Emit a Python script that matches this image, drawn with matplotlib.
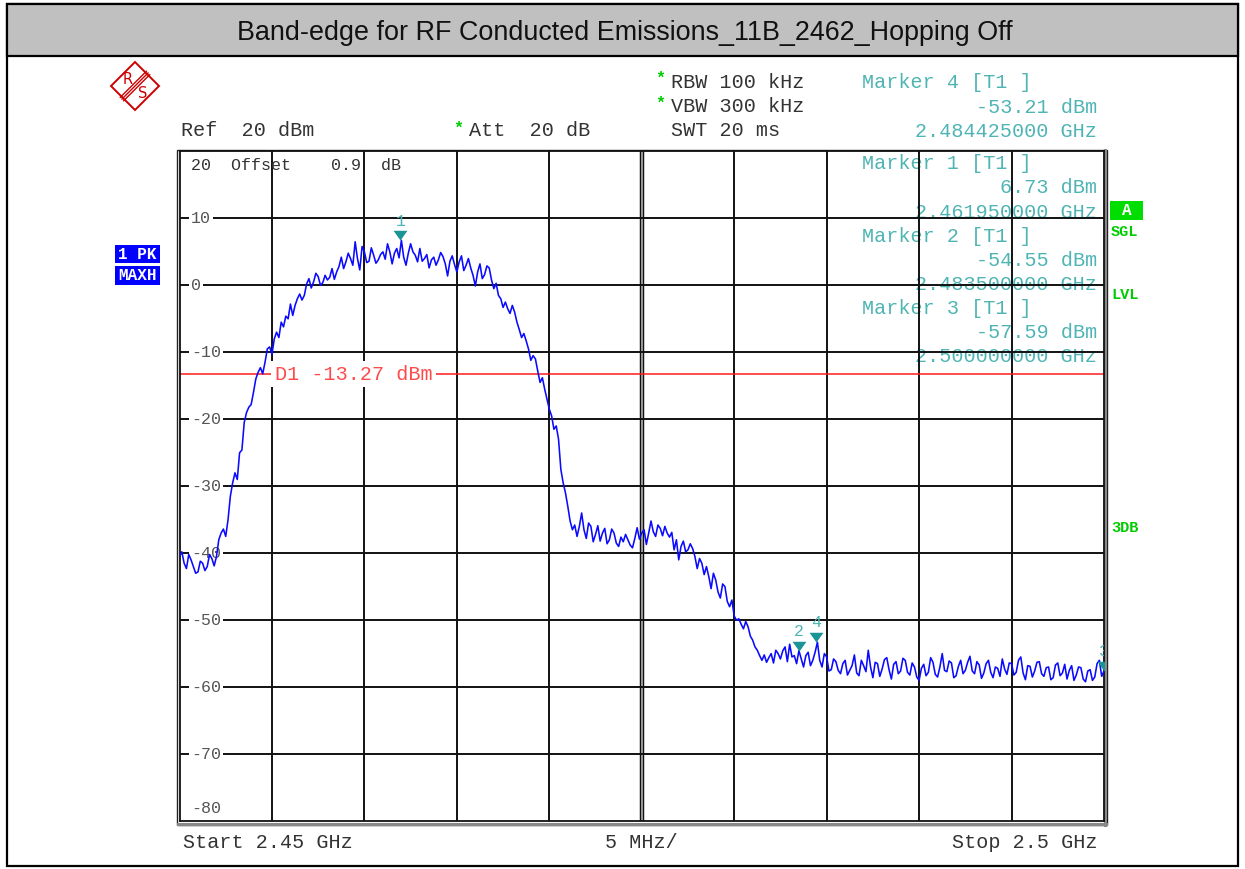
import numpy as np
import matplotlib
matplotlib.use("Agg")
import matplotlib.pyplot as plt
from matplotlib.patches import Rectangle, Polygon

W, H = 1245, 869

TITLE = "Band-edge for RF Conducted Emissions_11B_2462_Hopping Off"
START_GHZ, STOP_GHZ = 2.45, 2.50
REF_DBM, BOTTOM_DBM = 20, -80
display_line_dbm = -13.27

# peak trace, one value per 0.125 MHz across the span,
# one row = 2 MHz
trace_dbm = [
    -40.5, -39.8, -41.5, -42.3, -40.2, -41.0, -42.0, -43.0, -42.8, -41.2, -41.5, -42.6, -42.0, -40.2, -40.8, -41.9,
    -40.5, -38.0, -37.0, -36.4, -37.5, -35.0, -31.5, -29.5, -28.0, -29.0, -25.0, -24.6, -20.5, -19.0, -18.2, -17.8,
    -16.0, -14.0, -13.0, -12.3, -13.2, -11.5, -9.5, -9.2, -10.3, -8.0, -7.0, -7.8, -5.5, -6.2, -4.6, -5.0,
    -2.8, -4.5, -3.0, -2.0, -1.3, -2.2, -1.5, 0.2, 1.0, -0.4, 0.5, 1.8, 1.3, 0.0, 0.4, 1.5,
    0.8, 1.2, 2.5, 0.9, 2.0, 2.8, 4.2, 2.5, 3.5, 4.8, 4.0, 3.0, 6.5, 4.0, 2.3, 5.8,
    5.0, 3.4, 3.6, 5.6, 4.5, 3.3, 3.8, 4.6, 5.0, 3.9, 6.2, 5.0, 3.2, 4.8, 5.5, 4.1,
    6.73, 4.2, 3.0, 4.8, 6.2, 5.0, 4.5, 3.5, 5.5, 3.6, 4.0, 4.6, 2.6, 3.8, 4.2, 3.0,
    3.8, 4.9, 4.3, 3.2, 1.4, 3.6, 4.4, 3.1, 2.0, 3.5, 4.4, 2.2, 3.0, 4.0, 2.6, 1.5,
    -0.1, 2.0, 3.2, 1.0, 1.6, 2.9, 2.6, 0.8, -0.5, 0.3, -1.5, -2.0, -3.3, -2.5, -3.5, -4.2,
    -3.0, -4.0, -5.5, -6.6, -7.8, -7.2, -8.3, -9.5, -11.2, -10.5, -11.0, -12.8, -14.5, -13.8, -15.5, -17.0,
    -18.5, -19.5, -21.5, -21.0, -23.0, -27.5, -29.5, -31.0, -33.0, -35.2, -36.5, -35.8, -37.5, -36.0, -34.0, -36.5,
    -37.8, -35.5, -36.0, -38.3, -37.2, -35.9, -38.2, -37.0, -36.3, -38.6, -38.0, -36.4, -37.0, -38.5, -39.0, -37.6,
    -38.3, -37.2, -38.0, -38.8, -39.2, -37.8, -36.2, -37.9, -37.0, -36.5, -38.7, -37.0, -35.2, -36.8, -37.5, -35.8,
    -36.3, -37.4, -36.0, -37.0, -37.6, -36.9, -39.5, -38.0, -41.0, -39.0, -38.2, -39.8, -39.5, -38.6, -39.3, -40.5,
    -42.3, -40.8, -41.5, -43.2, -42.0, -43.5, -45.3, -43.0, -44.0, -45.8, -46.7, -44.6, -45.0, -47.2, -48.0, -47.0,
    -49.4, -50.0, -49.8, -50.6, -51.3, -50.2, -51.0, -52.4, -53.0, -54.0, -54.5, -55.3, -56.0, -55.2, -56.3, -55.6,
    -55.0, -56.4, -54.5, -55.0, -55.8, -54.6, -54.0, -56.2, -53.6, -55.5, -55.3, -56.5, -54.55, -55.8, -57.0, -55.3,
    -54.8, -56.8, -56.0, -54.8, -53.3, -56.0, -57.0, -55.0, -55.5, -57.6, -57.4, -55.8, -56.2, -57.5, -58.0, -56.5,
    -56.0, -58.2, -57.5, -56.8, -55.2, -57.9, -58.3, -56.0, -56.8, -57.7, -54.5, -57.0, -58.6, -56.3, -56.5, -58.4,
    -57.3, -55.9, -55.6, -57.4, -58.8, -56.6, -56.2, -58.0, -57.6, -55.7, -56.0, -57.8, -58.2, -56.4, -57.0, -58.5,
    -59.0, -57.2, -56.6, -58.3, -57.8, -55.6, -56.3, -58.1, -58.5, -57.0, -55.0, -57.5, -57.7, -56.1, -56.4, -58.6,
    -58.3, -56.9, -56.0, -58.0, -57.5, -56.3, -55.4, -57.6, -58.0, -56.2, -56.7, -58.7, -57.9, -56.5, -56.0, -57.8,
    -58.6, -57.0, -57.2, -58.4, -55.8, -57.3, -58.1, -56.4, -56.5, -58.2, -57.8, -56.0, -55.5, -57.9, -58.9, -56.8,
    -56.9, -58.5, -57.6, -56.3, -56.2, -58.0, -58.4, -57.1, -57.0, -58.9, -58.6, -56.7, -56.4, -58.3, -57.9, -56.6,
    -58.8, -57.5, -56.8, -59.0, -58.2, -57.0, -57.1, -58.8, -59.2, -57.6, -57.4, -59.0, -58.5, -56.5, -56.0, -58.4,
    -57.59,
]
freq_ghz = np.linspace(START_GHZ, STOP_GHZ, len(trace_dbm))

# marker table, in the order shown top-right
marker_ids = [4, 1, 2, 3]
marker_ghz = [2.484425, 2.46195, 2.4835, 2.5]
marker_dbm = [-53.21, 6.73, -54.55, -57.59]

ytick_dbm = [10, 0, -10, -20, -30, -40, -50, -60, -70]

MONO = "Liberation Mono"
TEAL = "#4fb4b4"
TEAL_DARK = "#1a9494"
GREEN = "#00cc00"
BLUE = "#0a0aff"
RS_RED = "#cc0000"

fig = plt.figure(figsize=(W / 100, H / 100), dpi=100, facecolor="white")

# pixel overlay for the frame and all the screen annotations
bg = fig.add_axes([0, 0, 1, 1])
bg.set_xlim(0, W)
bg.set_ylim(H, 0)
bg.axis("off")

bg.add_patch(Rectangle((7, 4), 1231, 862, fill=False, ec="black", lw=1.6))
bg.add_patch(Rectangle((7, 4), 1231, 52, fc="#c0c0c0", ec="black", lw=1.6))
bg.text(625, 33, TITLE, ha="center", va="center", fontsize=19.4,
        family="Liberation Sans", color="#111111")

# R&S logo
bg.add_patch(Polygon([(135, 62), (159, 86), (135, 110), (111, 86)], closed=True,
                     fill=False, ec=RS_RED, lw=1.4))
for d in (-1.7, 0, 1.7):
    bg.plot([148 + d, 122 + d], [73 + d, 99 + d], color=RS_RED, lw=1.0)
bg.text(127.5, 79, "R", color=RS_RED, fontsize=10.5, ha="center", va="center")
bg.text(142.5, 94, "S", color=RS_RED, fontsize=10.5, ha="center", va="center")

# header settings
hdr = dict(family=MONO, fontsize=14.5, color="#333333", va="center")
star = dict(family=MONO, fontsize=12, color=GREEN, fontweight="bold", va="center")
bg.text(181, 131, "Ref  20 dBm", **hdr)
bg.text(458, 128, "*", ha="center", **star)
bg.text(469, 131, "Att  20 dB", **hdr)
bg.text(660, 78, "*", ha="center", **star)
bg.text(671, 82, "RBW 100 kHz", **hdr)
bg.text(660, 103, "*", ha="center", **star)
bg.text(671, 107, "VBW 300 kHz", **hdr)
bg.text(671, 131, "SWT 20 ms", **hdr)

# marker table: first block sits above the grid, the rest run down inside it
mk = dict(family=MONO, fontsize=14.5, color=TEAL, va="center", zorder=10)
block_top = [83, 163.5, 236, 308]
for y0, mid, f, v in zip(block_top, marker_ids, marker_ghz, marker_dbm):
    bg.text(862, y0, f"Marker {mid} [T1 ]", **mk)
    bg.text(1097, y0 + 24.3, f"{v:.2f} dBm", ha="right", **mk)
    bg.text(1097, y0 + 48.5, f"{f:.9f} GHz", ha="right", **mk)

# left status boxes
for y0, h, lab in [(245, 18, "1 PK"), (266, 19, "MAXH")]:
    bg.add_patch(Rectangle((115, y0), 45, h, fc="#0000ff", ec="none"))
    bg.text(137.5, y0 + h / 2 + 0.5, lab, ha="center", va="center", color="white",
            family=MONO, fontsize=11.5, fontweight="bold")

# right status labels
bg.add_patch(Rectangle((1110, 201), 33, 19, fc="#00dd00", ec="none"))
bg.text(1126.5, 210.5, "A", ha="center", va="center", color="white",
        family=MONO, fontsize=11.5, fontweight="bold")
for y0, lab in [(232, "SGL"), (295, "LVL"), (528, "3DB")]:
    bg.text(1111, y0, lab, ha="left", va="center", color=GREEN,
            family=MONO, fontsize=11, fontweight="bold")

# footer
ftr = dict(family=MONO, fontsize=14.5, color="#333333", va="center")
bg.text(183, 843, "Start 2.45 GHz", ha="left", **ftr)
bg.text(641, 843, "5 MHz/", ha="center", **ftr)
bg.text(1098, 843, "Stop 2.5 GHz", ha="right", **ftr)

# outer double frame of the grid
bg.add_patch(Rectangle((177, 149.5), 929.5, 675.5, fill=False, ec="#222222", lw=1.0))
bg.plot([1104.5, 1104.5], [150, 825], color="#888888", lw=2.2)
bg.plot([178, 1106], [823.5, 823.5], color="#888888", lw=2.2)

# measurement grid
L, R, T, B = 179.5, 1104, 151.4, 821
ax = fig.add_axes([L / W, 1 - B / H, (R - L) / W, (B - T) / H])
ax.set_facecolor("none")
ax.set_xlim(START_GHZ, STOP_GHZ)
ax.set_ylim(BOTTOM_DBM, REF_DBM)
ax.set_xticks([])
ax.set_yticks([])
for s in ax.spines.values():
    s.set_color("#111111")
    s.set_linewidth(1.3)

xdiv = np.linspace(START_GHZ, STOP_GHZ, 11)[1:-1]
for k, f in enumerate(xdiv):
    if k == 4:
        ax.axvline(f, color="#111111", lw=3.2, zorder=1)
        ax.axvline(f, color="#9a9a9a", lw=1.4, zorder=1)
    else:
        ax.axvline(f, color="#111111", lw=1.4, zorder=1)
for v in ytick_dbm:
    ax.axhline(v, color="#111111", lw=1.4, zorder=1)

ylab = dict(family=MONO, fontsize=12, color="#555555", va="center", ha="left",
            transform=ax.get_yaxis_transform(), zorder=2)
for v in ytick_dbm:
    ax.text(0.0125, v, f"{v}", bbox=dict(fc="white", ec="none", pad=1.5), **ylab)
ax.text(0.0125, BOTTOM_DBM + 1.9, f"{BOTTOM_DBM}", **ylab)
ax.text(0.0125, REF_DBM - 2.1, f"{REF_DBM}  Offset    0.9  dB",
        **{**ylab, "color": "#333333"})

# display line D1
ax.axhline(display_line_dbm, color="#ff1a1a", lw=1.1, zorder=2)
ax.text(0.103, display_line_dbm, f"D1 {display_line_dbm:.2f} dBm", family=MONO,
        fontsize=14.5, color="#ff4a4a", va="center", ha="left",
        transform=ax.get_yaxis_transform(), zorder=3,
        bbox=dict(fc="white", ec="none", pad=2.5))

ax.plot(freq_ghz, trace_dbm, color=BLUE, lw=1.15, zorder=4)

# marker flags: tip of the triangle sits on the marker level
tri = [(-5, 7), (5, 7), (0, 0)]
ax.plot(marker_ghz, marker_dbm, linestyle="none", marker=tri, markersize=14,
        color=TEAL_DARK, markeredgewidth=0, zorder=5)
for mid, f, v in zip(marker_ids, marker_ghz, marker_dbm):
    ax.annotate(str(mid), (f, v), xytext=(0, 19), textcoords="offset pixels",
                ha="center", va="center", family=MONO, fontsize=12,
                color=TEAL, zorder=5, clip_on=True)

fig.savefig("out.png", dpi=100, facecolor="white")
